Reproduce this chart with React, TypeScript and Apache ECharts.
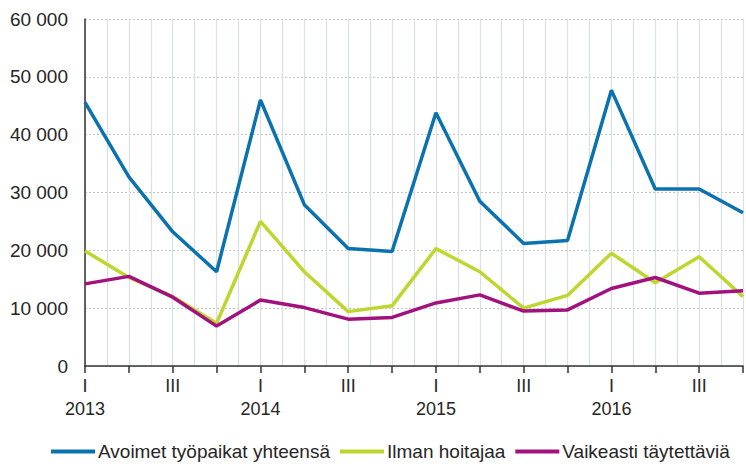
import React, { useEffect, useRef } from "react";
import * as echarts from "echarts";

const quarters = ["2013Q1","2013Q2","2013Q3","2013Q4","2014Q1","2014Q2","2014Q3","2014Q4","2015Q1","2015Q2","2015Q3","2015Q4","2016Q1","2016Q2","2016Q3","2016Q4"];
const quarterLabels = ["I","","III","","I","","III","","I","","III","","I","","III",""];
const yearLabels = ["2013","","","","2014","","","","2015","","","","2016","","",""];

const seriesNames = ["Avoimet työpaikat yhteensä","Ilman hoitajaa","Vaikeasti täytettäviä"];
const avoimet = [45600,32700,23200,16300,46000,27900,20300,19800,43800,28500,21200,21700,47700,30600,30600,26500];
const ilmanHoitajaa = [19900,15300,12000,7400,25000,16300,9400,10400,20300,16300,10000,12200,19500,14400,18900,12000];
const vaikeasti = [14200,15500,11900,6900,11400,10100,8100,8400,10900,12300,9500,9700,13400,15300,12600,13000];

const colors = ["#0b72b0","#bfd62e","#a2127f"];
const font = "'Liberation Sans', Arial, sans-serif";
const textColor = "#262626";

export default function App() {
  const ref = useRef<HTMLDivElement>(null);
  useEffect(() => {
    if (!ref.current) return;
    const chart = echarts.init(ref.current, null, { renderer: "svg" });
    chart.setOption({
      animation: false,
      textStyle: { fontFamily: font },
      grid: { left: 85, top: 19, right: -2, bottom: 98, containLabel: false },
      legend: {
        left: 46,
        top: 437,
        itemWidth: 44,
        itemHeight: 4,
        itemGap: 10,
        icon: "rect",
        textStyle: { fontSize: 19, color: textColor, fontFamily: font, padding: [0, 0, 0, -2] },
        data: seriesNames,
      },
      xAxis: [
        {
          type: "category",
          data: quarters,
          boundaryGap: false,
          axisLine: { lineStyle: { color: "#333", width: 1.5 } },
          axisTick: { show: true, length: 7, interval: 0, lineStyle: { color: "#333", width: 1.5 } },
          splitLine: { show: false },
          axisLabel: {
            interval: 0,
            margin: 8,
            fontSize: 18,
            color: textColor,
            fontFamily: font,
            lineHeight: 23,
            formatter: (_v: string, i: number) => {
              const q = quarterLabels[i];
              const y = yearLabels[i];
              if (!q) return "";
              return y ? q + "\n" + y : q;
            },
          },
        },
        {
          type: "value",
          min: 0,
          max: 30,
          interval: 1,
          position: "bottom",
          axisLine: { show: false },
          axisTick: { show: false },
          axisLabel: { show: false },
          splitLine: { show: true, lineStyle: { color: "#d9e0e0", width: 1.2 } },
        },
      ],
      yAxis: {
        type: "value",
        min: 0,
        max: 60000,
        interval: 10000,
        axisLine: { show: true, lineStyle: { color: "#333", width: 1.5 } },
        axisTick: { show: false },
        axisLabel: {
          fontSize: 19,
          color: textColor,
          margin: 17,
          fontFamily: font,
          formatter: (v: number) => (v === 0 ? "0" : String(v).replace(/\B(?=(\d{3})+(?!\d))/g, " ")),
        },
        splitLine: { show: true, lineStyle: { color: "#c4c4c4", type: [2, 2], width: 1 } },
      },
      series: [
        { name: seriesNames[0], type: "line", data: avoimet, symbol: "none", color: colors[0], lineStyle: { width: 3.5, color: colors[0] }, z: 3 },
        { name: seriesNames[1], type: "line", data: ilmanHoitajaa, symbol: "none", color: colors[1], lineStyle: { width: 3.5, color: colors[1] }, z: 2 },
        { name: seriesNames[2], type: "line", data: vaikeasti, symbol: "none", color: colors[2], lineStyle: { width: 3.5, color: colors[2] }, z: 4 },
      ],
    });
    return () => chart.dispose();
  }, []);
  return <div ref={ref} style={{ width: 746, height: 464, position: "absolute", left: 0, top: 0 }} />;
}
